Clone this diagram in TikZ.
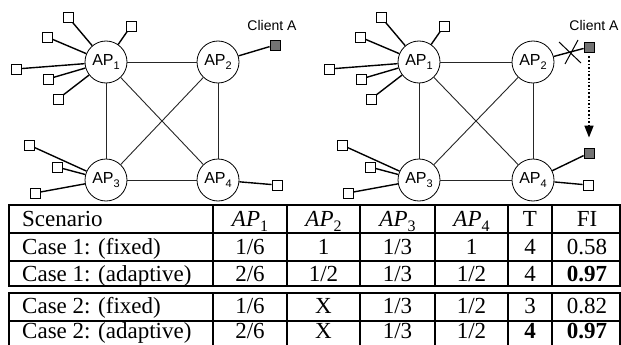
\documentclass[tikz,border=0pt]{standalone}
\usepackage{fontspec}
\setmainfont{Liberation Serif}
\newfontfamily\arialf{Liberation Sans}
\usetikzlibrary{arrows.meta}
\newcommand\apn[1]{AP\raisebox{-0.22em}{\fontsize{11}{11}\selectfont #1}}
\newcommand\apm[1]{{\itshape AP}\raisebox{-0.25em}{\fontsize{16}{16}\selectfont #1}}
\tikzset{
 ap/.style={circle, draw, line width=0.8pt, minimum size=42pt, inner sep=0pt, fill=white, font=\arialf\fontsize{16}{16}\selectfont},
 cl/.style={rectangle, draw, line width=0.8pt, minimum size=10pt, inner sep=0pt, fill=white},
 cla/.style={cl, fill=black!55},
 link/.style={line width=0.9pt, draw=black!85},
 cline/.style={line width=1.4pt},
 tline/.style={line width=2.4pt},
 lbl/.style={font=\arialf\fontsize{14}{14}\selectfont, inner sep=0pt},
 cell/.style={font=\fontsize{23}{23}\selectfont, inner sep=0pt, anchor=base},
 lcell/.style={cell, anchor=base west},
}
\begin{document}
\begin{tikzpicture}[x=1pt,y=-1pt]
\useasboundingbox (0,0) rectangle (621,345);
% ---------- left panel ----------
\node[ap] (a1) at (106,62) {\apn{1}};
\node[ap] (a2) at (218,62) {\apn{2}};
\node[ap] (a3) at (106,180) {\apn{3}};
\node[ap] (a4) at (218,180) {\apn{4}};
\draw[link] (a1) -- (a2);
\draw[link] (a1) -- (a3);
\draw[link] (a1) -- (a4);
\draw[link] (a2) -- (a3);
\draw[link] (a2) -- (a4);
\draw[link] (a3) -- (a4);
\node[cl] (s1) at (68,17) {};
\node[cl] (s2) at (131,26) {};
\node[cl] (s3) at (47,37) {};
\node[cl] (s4) at (16,69) {};
\node[cl] (s5) at (48,79) {};
\node[cl] (s6) at (58,99) {};
\node[cl] (s7) at (29,145) {};
\node[cl] (s8) at (57,167) {};
\node[cl] (s9) at (35,193) {};
\node[cl] (s10) at (277,185) {};
\node[cla] (ca) at (275,45) {};
\node[lbl] (cal) at (272,25) {Client A};
\foreach \s in {s1,s2,s3,s4,s5,s6} \draw[cline] (\s) -- (a1);
\foreach \s in {s7,s8,s9} \draw[cline] (\s) -- (a3);
\draw[cline] (s10) -- (a4);
\draw[cline] (ca) -- (a2);
% ---------- right panel ----------
\node[ap] (b1) at (419,62) {\apn{1}};
\node[ap] (b2) at (533,62) {\apn{2}};
\node[ap] (b3) at (419,180) {\apn{3}};
\node[ap] (b4) at (533,180) {\apn{4}};
\draw[link] (b1) -- (b2);
\draw[link] (b1) -- (b3);
\draw[link] (b1) -- (b4);
\draw[link] (b2) -- (b3);
\draw[link] (b2) -- (b4);
\draw[link] (b3) -- (b4);
\node[cl] (t1) at (381,17) {};
\node[cl] (t2) at (444,26) {};
\node[cl] (t3) at (360,37) {};
\node[cl] (t4) at (329,69) {};
\node[cl] (t5) at (361,79) {};
\node[cl] (t6) at (371,99) {};
\node[cl] (t7) at (342,145) {};
\node[cl] (t8) at (370,167) {};
\node[cl] (t9) at (348,193) {};
\node[cl] (t10) at (588,185) {};
\node[cla] (cb) at (589,47) {};
\node[cla] (cc) at (589,153) {};
\node[lbl] (cbl) at (594,25) {Client A};
\foreach \s in {t1,t2,t3,t4,t5,t6} \draw[cline] (\s) -- (b1);
\foreach \s in {t7,t8,t9} \draw[cline] (\s) -- (b3);
\draw[cline] (t10) -- (b4);
\draw[cline] (cb) -- (b2);
\draw[cline] (cc) -- (b4);
\coordinate (xa) at (559,42);
\coordinate (xb) at (581,63);
\coordinate (xc) at (565,64);
\coordinate (xd) at (578,40);
\draw[line width=1pt] (xa) -- (xb);
\draw[line width=1pt] (xc) -- (xd);
\draw[line width=1.6pt, dotted, shorten <=4pt, shorten >=10pt, -{Triangle[length=12pt,width=9pt]}] (cb) -- (cc);
% ---------- table ----------
\draw[tline] (9,205) -- (622,205);
\draw[tline] (9,233) -- (622,233);
\draw[tline] (9,261) -- (622,261);
\draw[tline] (9,286) -- (622,286);
\draw[tline] (9,293) -- (622,293);
\draw[tline] (9,321) -- (622,321);
\foreach \x in {9,213,287,360,435,508,552,620.5} {
  \draw[tline] (\x,204) -- (\x,287);
  \draw[tline] (\x,292) -- (\x,350);
}
\node[lcell] (h0) at (22,226) {Scenario};
\node[cell] (h1) at (250,226) {\apm{1}};
\node[cell] (h2) at (323.5,226) {\apm{2}};
\node[cell] (h3) at (397.5,226) {\apm{3}};
\node[cell] (h4) at (471.5,226) {\apm{4}};
\node[cell] (h5) at (530,226) {T};
\node[cell] (h6) at (587,226) {FI};
\node[lcell] (r10) at (22,254) {Case 1: (fixed)};
\node[cell] (r11) at (250,254) {1/6};
\node[cell] (r12) at (323.5,254) {1};
\node[cell] (r13) at (397.5,254) {1/3};
\node[cell] (r14) at (471.5,254) {1};
\node[cell] (r15) at (530,254) {4};
\node[cell] (r16) at (587,254) {0.58};
\node[lcell] (r20) at (22,281) {Case 1: (adaptive)};
\node[cell] (r21) at (250,281) {2/6};
\node[cell] (r22) at (323.5,281) {1/2};
\node[cell] (r23) at (397.5,281) {1/3};
\node[cell] (r24) at (471.5,281) {1/2};
\node[cell] (r25) at (530,281) {4};
\node[cell] (r26) at (587,281) {\bfseries 0.97};
\node[lcell] (r30) at (22,313) {Case 2: (fixed)};
\node[cell] (r31) at (250,313) {1/6};
\node[cell] (r32) at (323.5,313) {X};
\node[cell] (r33) at (397.5,313) {1/3};
\node[cell] (r34) at (471.5,313) {1/2};
\node[cell] (r35) at (530,313) {3};
\node[cell] (r36) at (587,313) {0.82};
\node[lcell] (r40) at (22,338.5) {Case 2: (adaptive)};
\node[cell] (r41) at (250,338.5) {2/6};
\node[cell] (r42) at (323.5,338.5) {X};
\node[cell] (r43) at (397.5,338.5) {1/3};
\node[cell] (r44) at (471.5,338.5) {1/2};
\node[cell] (r45) at (530,338.5) {\bfseries 4};
\node[cell] (r46) at (587,338.5) {\bfseries 0.97};
\end{tikzpicture}
\end{document}
